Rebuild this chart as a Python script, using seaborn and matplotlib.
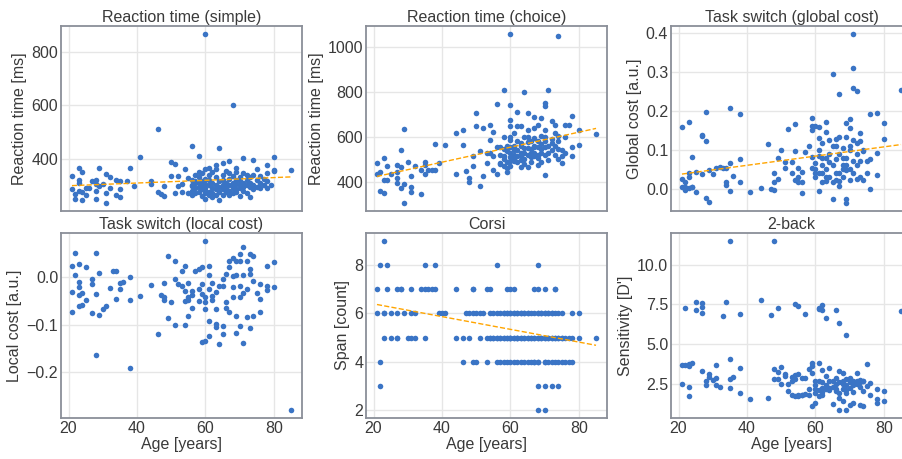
import numpy as np
import pandas as pd
import matplotlib
matplotlib.use("Agg")
import matplotlib.pyplot as plt
import seaborn as sns

# ---------------- data (age [years], value) ----------------
rt_simple = [
    (21, 334), (23, 366), (24, 348), (23, 318), (21, 286), (22, 267), (22, 250), (24, 243), (23, 307),
    (24, 274), (25, 290), (27, 315), (28, 303), (29, 364), (28, 278), (28, 250), (31, 343), (32, 329),
    (30, 303), (31, 271), (31, 235), (34, 321), (35, 315), (34, 265), (35, 256), (38, 366), (37, 315),
    (39, 296), (35, 287), (26, 290), (29, 296), (25, 265), (32, 290), (28, 321), (23, 277),
    (44, 315), (44, 305), (46, 274), (47, 269), (48, 259), (48, 296), (50, 386), (51, 381), (50, 336),
    (52, 334), (51, 271), (52, 296), (53, 305), (54, 361), (53, 274), (55, 326), (55, 271), (56, 296),
    (57, 315),
    (60, 865), (68, 600), (46, 511), (56, 446), (64, 440), (58, 409), (41, 405), (80, 407), (85, 356),
    (80, 355), (71, 402), (63, 374), (61, 365), (65, 384), (67, 390), (69, 365), (74, 396), (78, 377),
    (80, 356),
    (56, 300), (56, 320), (56, 280), (56, 265), (57, 310), (57, 290), (57, 340), (57, 270),
    (58, 330), (58, 295), (58, 275), (58, 350), (58, 310), (59, 285), (59, 315), (59, 260), (59, 300),
    (59, 345), (60, 270), (60, 305), (60, 290), (60, 325), (60, 250), (60, 360), (60, 280),
    (61, 300), (61, 320), (61, 275), (61, 340), (61, 265), (62, 290), (62, 310), (62, 350), (62, 270),
    (62, 255), (63, 300), (63, 285), (63, 330), (63, 265), (63, 360), (64, 295), (64, 315), (64, 275),
    (64, 245), (65, 300), (65, 320), (65, 340), (65, 265), (65, 285), (66, 310), (66, 290), (66, 275),
    (66, 355), (67, 325), (67, 300), (67, 280), (67, 265), (67, 345), (68, 310), (68, 290), (68, 335),
    (68, 270), (68, 300), (69, 320), (69, 285), (69, 305), (69, 350), (69, 275), (70, 300), (70, 330),
    (70, 290), (70, 260), (70, 315), (71, 310), (71, 295), (71, 345), (71, 280), (72, 320), (72, 300),
    (72, 270), (72, 340), (73, 330), (73, 295), (73, 310), (73, 255), (74, 340), (74, 300), (74, 285),
    (75, 320), (75, 295), (75, 360), (76, 310), (76, 290), (76, 335), (77, 300), (77, 325), (78, 315),
    (78, 290), (78, 345), (79, 300),
]

rt_choice = [
    (60, 1055), (74, 1050), (58, 807), (64, 798), (71, 808), (56, 746), (60, 740), (50, 706), (62, 712),
    (65, 707), (70, 750), (70, 735), (78, 694),
    (21, 485), (21, 437), (23, 505), (24, 471), (22, 360), (23, 350), (22, 446), (23, 409), (24, 409),
    (25, 434), (27, 476), (28, 468), (28, 540), (29, 633), (27, 445), (27, 419), (27, 394), (28, 372),
    (29, 390), (29, 308), (30, 488), (31, 424), (31, 376), (31, 357), (32, 471), (34, 345), (35, 489),
    (35, 473), (35, 436), (34, 453), (36, 453), (37, 453), (38, 453), (38, 569), (39, 486), (41, 562),
    (44, 618), (44, 437), (46, 629), (46, 566), (47, 447), (48, 416), (48, 401), (49, 517), (49, 471),
    (50, 650), (51, 537), (51, 380), (52, 641), (52, 427), (53, 528), (53, 483), (54, 651), (54, 587),
    (54, 528), (55, 453), (55, 623), (55, 513), (56, 557), (56, 436), (57, 557), (57, 483), (58, 599),
    (58, 513), (59, 535), (59, 461), (59, 446), (60, 676), (60, 650), (60, 587), (60, 557), (60, 491),
    (61, 617), (61, 543), (61, 491), (62, 650), (62, 513), (63, 647), (63, 572), (63, 513), (63, 468),
    (64, 528), (64, 599), (65, 632), (65, 550), (65, 468), (66, 580), (66, 528), (67, 688), (67, 639),
    (67, 557), (67, 513), (68, 473), (68, 654), (68, 557), (69, 684), (69, 602), (69, 528), (70, 632),
    (70, 557), (70, 431), (71, 498), (72, 669), (72, 572), (73, 617), (73, 654), (74, 602), (74, 546),
    (75, 483), (75, 513), (76, 654), (76, 528), (77, 654), (78, 513), (78, 555), (80, 632), (80, 562),
    (85, 611),
    (57, 520), (57, 480), (58, 545), (58, 500), (58, 470), (59, 560), (59, 490), (60, 510), (60, 530),
    (60, 470), (60, 600), (61, 520), (61, 500), (61, 560), (62, 540), (62, 490), (62, 580), (63, 530),
    (63, 560), (63, 495), (64, 550), (64, 500), (64, 480), (65, 520), (65, 575), (65, 600), (66, 545),
    (66, 490), (66, 510), (67, 560), (67, 530), (67, 595), (68, 520), (68, 580), (68, 505), (69, 545),
    (69, 490), (69, 570), (70, 520), (70, 600), (70, 580), (71, 560), (71, 530), (72, 540), (72, 590),
    (73, 520), (73, 560), (74, 580), (74, 500), (75, 540), (76, 600),
]

ts_global = [
    (21, 0.159), (23, 0.172), (28, 0.197), (27, 0.139), (27, 0.136), (28, 0.122), (35, 0.208), (38, 0.193),
    (24, 0.081), (21, 0.025), (22, 0.016), (23, 0.031), (23, 0.041), (25, 0.043), (21, 0.004), (22, 0.003),
    (23, 0.001), (24, 0.004), (24, 0.005), (22, -0.003), (25, -0.009), (27, 0.038), (28, -0.025),
    (29, -0.035), (29, 0.048), (30, 0.038), (31, 0.053), (32, 0.055), (33, 0.054), (34, 0.052),
    (34, 0.017), (34, 0.009), (35, 0.067), (35, -0.005), (36, 0.033), (38, 0.077), (38, 0.018),
    (41, -0.010), (44, 0.001), (46, 0.115), (47, -0.001), (48, -0.004), (48, 0.041), (48, 0.017),
    (49, 0.025), (49, 0.079), (50, 0.100), (51, 0.069), (51, 0.053), (52, 0.153), (53, 0.069),
    (53, 0.041), (54, 0.166), (54, 0.097), (54, 0.022), (55, 0.053), (55, 0.031), (55, 0.016),
    (56, -0.012), (56, 0.044), (56, 0.016), (57, 0.093), (58, 0.109), (59, 0.182), (59, 0.160),
    (59, 0.152), (59, 0.081), (59, 0.053), (60, 0.160), (60, 0.066), (60, 0.040), (61, 0.159),
    (61, 0.130), (61, 0.084), (61, -0.005), (62, 0.117), (62, 0.018), (62, 0.040), (63, 0.172),
    (63, 0.145), (63, 0.078), (63, 0.031), (64, 0.126), (64, 0.068), (65, 0.296), (65, 0.018),
    (65, -0.028), (66, 0.127), (66, 0.109), (66, 0.022), (67, 0.243), (67, 0.133), (67, 0.040),
    (67, 0.007), (68, 0.104), (68, 0.078), (68, 0.060), (69, 0.169), (69, 0.133), (69, 0.048),
    (69, -0.026), (69, -0.036), (70, 0.178), (70, 0.156), (70, 0.109), (70, 0.022), (71, 0.397),
    (71, 0.310), (71, 0.259), (72, 0.251), (71, 0.126), (72, 0.117), (72, 0.025), (73, 0.143),
    (73, 0.122), (73, 0.070), (74, 0.096), (74, 0.022), (75, 0.070), (76, 0.191), (76, 0.076),
    (76, -0.001), (78, 0.195), (78, 0.091), (78, 0.034), (80, 0.170), (80, 0.128), (85, 0.253),
    (60, 0.030), (60, 0.050), (61, 0.040), (61, 0.100), (62, 0.060), (62, 0.080), (63, 0.050),
    (63, 0.020), (64, 0.090), (64, 0.030), (65, 0.060), (65, 0.110), (66, 0.040), (66, 0.075),
    (67, 0.090), (67, 0.020), (68, 0.050), (68, 0.030), (69, 0.080), (69, 0.060), (70, 0.050),
    (70, 0.100), (71, 0.070), (71, 0.040), (72, 0.090), (72, 0.060), (73, 0.030), (74, 0.100),
    (75, 0.040),
]

ts_local = [
    (21, 0.025), (22, 0.051), (23, 0.028), (21, -0.032), (22, 0.004), (23, -0.009), (23, -0.020),
    (23, -0.037), (24, -0.034), (25, 0.021), (25, -0.047), (23, -0.061), (24, -0.058), (21, -0.074),
    (28, 0.051), (27, -0.004), (27, -0.014), (28, -0.035), (29, 0.010), (27, -0.075), (29, -0.080),
    (30, -0.068), (31, -0.061), (32, -0.023), (33, 0.014), (34, 0.014), (34, -0.045), (35, -0.011),
    (35, -0.025), (36, -0.009), (38, 0.000), (38, -0.047), (28, -0.165), (38, -0.192), (41, -0.040),
    (44, -0.017), (46, -0.120), (47, -0.037), (48, -0.013), (48, -0.042), (48, -0.049), (49, 0.046),
    (49, -0.087), (50, -0.052), (51, 0.035), (51, -0.004), (51, -0.100), (52, -0.014), (53, 0.014),
    (53, -0.018), (54, 0.023), (54, -0.030), (54, -0.051), (54, -0.100), (55, -0.012), (55, -0.042),
    (55, -0.049), (56, -0.028), (56, -0.037), (56, -0.065), (55, -0.081), (57, 0.014), (58, 0.018),
    (58, -0.025), (58, -0.051), (59, 0.021), (59, -0.014), (59, -0.035), (59, -0.137), (60, 0.076),
    (60, -0.042), (60, -0.053), (60, -0.067), (60, -0.134), (61, 0.025), (61, 0.004), (61, -0.025),
    (61, -0.092), (61, -0.125), (62, -0.011), (62, -0.039), (62, -0.048), (63, -0.032), (63, -0.067),
    (63, -0.099), (63, -0.106), (64, -0.142), (64, -0.019), (65, -0.004), (65, -0.018), (65, -0.104),
    (65, -0.120), (66, 0.007), (66, -0.053), (66, -0.065), (67, 0.035), (67, 0.021), (67, -0.073),
    (68, 0.041), (68, 0.003), (68, -0.021), (68, -0.042), (69, 0.034), (69, 0.004), (69, -0.081),
    (69, -0.118), (70, 0.049), (70, 0.034), (70, -0.018), (70, -0.042), (70, -0.102), (71, 0.065),
    (71, 0.005), (71, -0.033), (71, -0.139), (72, 0.035), (72, -0.025), (72, -0.085), (73, 0.049),
    (73, 0.018), (73, 0.007), (73, -0.108), (74, 0.046), (74, -0.007), (74, -0.081), (75, -0.033),
    (76, -0.014), (76, -0.046), (76, -0.074), (78, 0.023), (78, -0.018), (78, -0.027), (80, 0.033),
    (80, -0.020), (85, -0.280),
]

corsi_ages_by_span = {
    9: [23],
    8: [22, 24, 35, 38, 56, 68],
    7: [21, 24, 27, 28, 28, 31, 34, 35, 36, 37, 38, 44, 49, 49, 53, 54, 59, 60, 61, 67, 68, 70, 73, 73],
    6: [21, 23, 23, 25, 27, 29, 31, 32, 39, 40, 41, 47, 48, 49, 50, 51, 52, 54, 55, 56, 57, 58, 58, 59,
        59, 60, 60, 61, 61, 62, 62, 63, 63, 64, 64, 65, 65, 66, 67, 68, 68, 69, 69, 70, 70, 71, 71, 72,
        72, 73, 74, 75, 78, 80],
    5: [23, 25, 27, 27, 30, 31, 32, 35, 44, 46, 48, 51, 53, 54, 54, 55, 55, 56, 56, 57, 57, 58, 58, 59,
        59, 60, 60, 60, 61, 61, 62, 62, 62, 63, 63, 64, 64, 65, 65, 66, 66, 67, 67, 68, 68, 69, 69, 70,
        70, 71, 71, 72, 72, 73, 73, 74, 74, 75, 75, 76, 77, 78, 80, 85],
    4: [22, 46, 49, 50, 53, 56, 57, 58, 59, 60, 61, 62, 63, 64, 65, 66, 67, 67, 68, 68, 70, 70, 71, 72,
        73, 74, 75, 76, 77, 78],
    3: [22, 68, 70, 72, 74],
    2: [68, 70],
}

two_back = [
    (22, 7.30), (25, 7.64), (25, 7.14), (27, 7.62), (27, 7.35), (27, 6.99), (33, 6.80), (34, 7.64),
    (35, 11.47), (38, 6.88), (44, 7.77), (47, 6.84), (48, 11.47), (49, 7.26), (54, 7.56), (55, 7.39),
    (57, 6.88), (61, 7.30), (61, 7.20), (62, 7.47), (62, 7.14), (63, 6.63), (66, 7.14), (67, 6.34),
    (69, 5.56), (85, 7.10),
    (21, 3.66), (22, 3.66), (23, 3.77), (24, 3.83), (23, 3.62), (21, 2.46), (23, 2.32), (23, 1.75),
    (27, 3.30), (29, 3.14), (29, 2.93), (28, 2.67), (28, 2.40), (30, 2.74), (31, 3.70), (31, 2.88),
    (31, 2.40), (32, 2.32), (35, 4.08), (35, 2.82), (35, 2.25), (36, 2.95), (38, 3.52), (38, 1.92),
    (41, 1.56), (46, 1.62), (48, 3.45), (49, 3.26), (48, 2.82), (49, 2.82), (50, 3.58), (50, 2.46),
    (51, 3.09), (51, 2.99), (52, 2.46), (52, 2.04), (53, 2.93), (53, 2.67), (53, 1.83), (54, 3.03),
    (54, 2.78), (54, 1.73), (55, 3.09), (55, 1.73), (56, 2.88), (56, 1.83), (57, 2.88), (58, 3.41),
    (58, 1.83), (59, 3.83), (59, 3.62), (59, 3.20), (59, 1.09), (60, 2.67), (60, 2.15), (60, 1.30),
    (61, 3.83), (61, 2.67), (61, 1.73), (62, 3.35), (62, 2.25), (62, 1.83), (63, 2.99), (63, 2.15),
    (64, 3.47), (64, 2.25), (65, 2.67), (65, 1.26), (66, 2.88), (66, 2.04), (67, 3.30), (67, 0.88),
    (67, 1.62), (68, 3.20), (68, 2.46), (68, 1.45), (69, 2.78), (69, 0.88), (69, 1.94), (70, 2.88),
    (70, 2.25), (70, 1.20), (71, 2.67), (71, 1.30), (72, 3.20), (72, 2.46), (73, 2.72), (73, 1.20),
    (74, 2.67), (74, 2.04), (74, 1.09), (75, 3.77), (75, 2.36), (76, 2.57), (76, 1.83), (78, 2.15),
    (78, 1.52), (78, 1.30), (80, 2.04), (80, 1.45),
    (58, 2.20), (60, 2.40), (60, 1.90), (61, 2.10), (62, 2.60), (62, 2.00), (63, 2.40), (64, 2.10),
    (64, 2.70), (65, 2.30), (66, 2.50), (66, 2.20), (67, 2.60), (67, 1.90), (68, 2.20), (68, 2.70),
    (69, 2.40), (69, 2.10), (70, 2.60), (70, 2.70), (71, 2.40), (71, 2.00), (72, 2.70), (73, 2.30),
    (73, 2.60), (74, 2.70), (55, 1.80), (56, 1.80), (57, 1.85),
]

titles = ["Reaction time (simple)", "Reaction time (choice)", "Task switch (global cost)",
          "Task switch (local cost)", "Corsi", "2-back"]
ylabels = ["Reaction time [ms]", "Reaction time [ms]", "Global cost [a.u.]",
           "Local cost [a.u.]", "Span [count]", "Sensitivity [D']"]
xlabel = "Age [years]"

corsi = [(a, s) for s, ages in corsi_ages_by_span.items() for a in ages]
panels = [rt_simple, rt_choice, ts_global, ts_local, corsi, two_back]
show_fit = [True, True, True, False, True, False]
yticks = [[400, 600, 800], [400, 600, 800, 1000], [0.0, 0.1, 0.2, 0.3, 0.4],
          [-0.2, -0.1, 0.0], [2, 4, 6, 8], [2.5, 5.0, 7.5, 10.0]]

# ---------------- style ----------------
sns.set_theme(style="whitegrid")
plt.rcParams["font.family"] = ["Liberation Sans", "DejaVu Sans"]
text_color = "#3a3a3a"
plt.rcParams.update({
    "axes.edgecolor": "#8a8f98",
    "axes.linewidth": 1.3,
    "grid.color": "#e6e6e6",
    "grid.linewidth": 1.0,
    "text.color": text_color,
    "axes.labelcolor": text_color,
    "xtick.color": text_color,
    "ytick.color": text_color,
})

point_color = "#3a74c5"
line_color = "#ffa500"

fig = plt.figure(figsize=(9.02, 4.59), dpi=100)
W, H = 902.0, 459.0
lefts = [61, 366, 671]
tops = [26, 233]
aw, ah = 241, 185

axes = []
for i in range(6):
    r, c = divmod(i, 3)
    rect = [lefts[c] / W, 1 - (tops[r] + ah) / H, aw / W, ah / H]
    ax = fig.add_axes(rect, sharex=axes[0] if axes else None)
    axes.append(ax)

for i, (ax, data) in enumerate(zip(axes, panels)):
    df = pd.DataFrame(data, columns=["age", "value"])
    sns.regplot(data=df, x="age", y="value", ax=ax, ci=None, fit_reg=show_fit[i],
                scatter_kws=dict(s=16, color=point_color, linewidths=0, alpha=1),
                line_kws=dict(color=line_color, linestyle="--", linewidth=1.0))
    ax.set_title(titles[i], fontsize=11.5, pad=3, color=text_color)
    ax.set_ylabel(ylabels[i], fontsize=11.5, labelpad=3)
    ax.set_yticks(yticks[i])
    ax.tick_params(axis="both", labelsize=11.5, pad=2, length=0)
    if i < 3:
        ax.set_xlabel("")
        ax.tick_params(axis="x", labelbottom=False)
    else:
        ax.set_xlabel(xlabel, fontsize=11.5, labelpad=1)
    ax.margins(x=0.05, y=0.05)
    ax.autoscale_view()

axes[0].set_xticks([20, 40, 60, 80])
axes[0].set_xlim(17.8, 88.2)

fig.savefig("out.png", dpi=100)
